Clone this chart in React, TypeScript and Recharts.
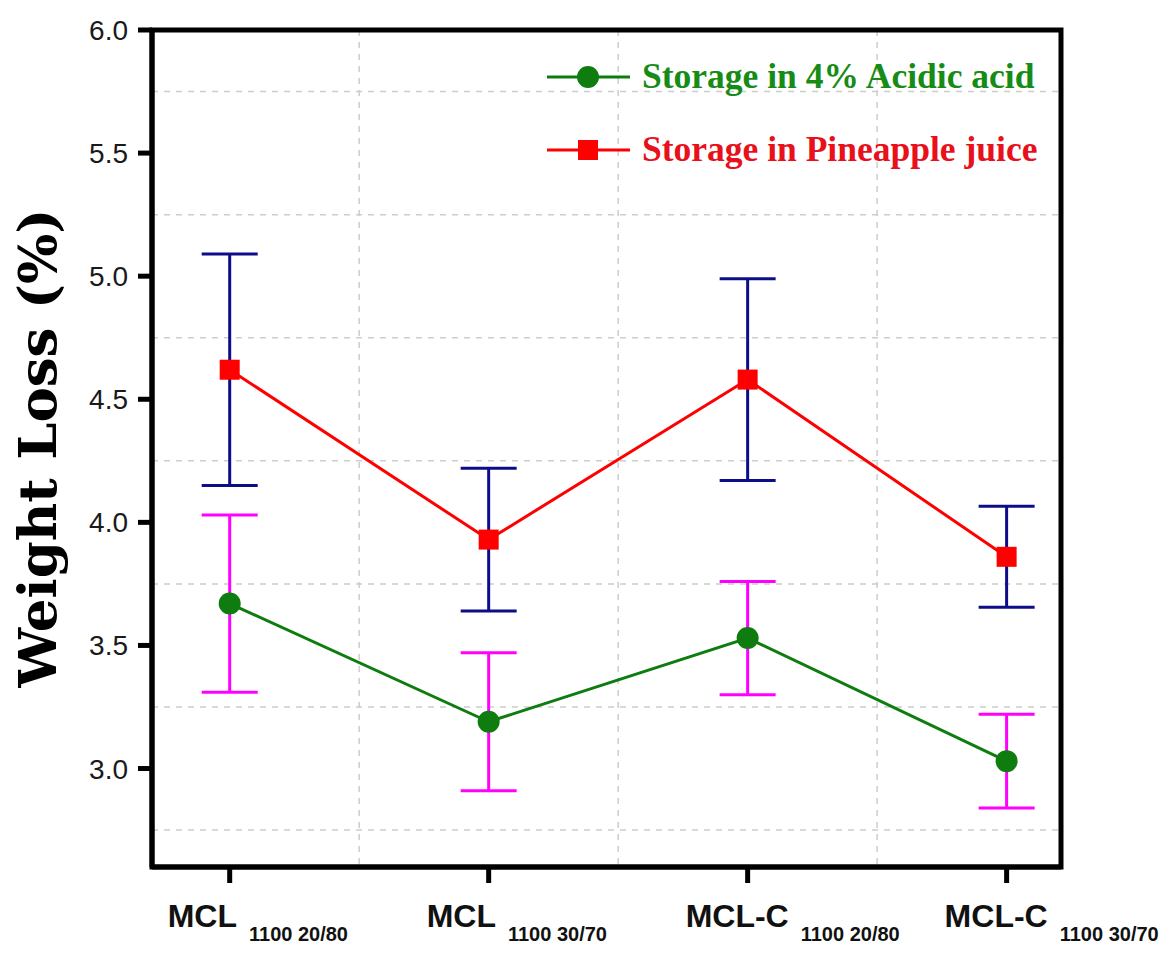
import React from "react";
import {
  LineChart,
  Line,
  XAxis,
  YAxis,
  ErrorBar,
  CartesianGrid,
  Legend,
  Label,
  ReferenceArea,
} from "recharts";

const categories = ["MCL", "MCL", "MCL-C", "MCL-C"];
const subscripts = ["1100 20/80", "1100 30/70", "1100 20/80", "1100 30/70"];
const positions = [1, 2, 3, 4];

const acidic = [3.67, 3.19, 3.53, 3.03];
const acidicErr = [0.36, 0.28, 0.23, 0.19];
const pineapple = [4.62, 3.93, 4.58, 3.86];
const pineappleErr = [0.47, 0.29, 0.41, 0.205];

const yTicks = [3.0, 3.5, 4.0, 4.5, 5.0, 5.5, 6.0];
const yGridValues = [2.75, 3.25, 3.75, 4.25, 4.75, 5.25, 5.75];
const xGridValues = [1.5, 2.5, 3.5];
const yDomain = [2.6, 6.0];
const xDomain = [0.7, 4.21];

const GREEN = "#0e7c0e";
const GREEN_TEXT = "#168c16";
const RED = "#ff0000";
const RED_TEXT = "#e8101a";
const NAVY = "#0d0d88";
const MAGENTA = "#ff00ff";

const SANS = "'Liberation Sans', Arial, sans-serif";
const SERIF = "'Liberation Serif', 'Times New Roman', serif";

const data = positions.map((pos, i) => ({
  pos,
  acidic: acidic[i],
  acidicErr: acidicErr[i],
  pineapple: pineapple[i],
  pineappleErr: pineappleErr[i],
}));

function SquareDot(props: any) {
  const { cx, cy } = props;
  if (cx == null || cy == null) return null;
  return <rect x={cx - 10} y={cy - 10} width={20} height={20} fill={RED} />;
}

function CategoryTick(props: any) {
  const { x, y, payload } = props;
  const i = positions.indexOf(payload.value);
  if (i < 0) return null;
  return (
    <text x={x - 62} y={y + 44} fontFamily={SANS} fontWeight="bold" fill="#111">
      <tspan fontSize={32}>{categories[i]}</tspan>
      <tspan fontSize={20} dx={12} dy={14}>
        {subscripts[i]}
      </tspan>
    </text>
  );
}

function ValueTick(props: any) {
  const { x, y, payload } = props;
  return (
    <text
      x={x}
      y={y}
      dy={10}
      textAnchor="end"
      fontFamily={SANS}
      fontSize={28}
      fill="#1a1a1a"
    >
      {Number(payload.value).toFixed(1)}
    </text>
  );
}

function LegendBox(props: any) {
  const payload = props.payload || [];
  return (
    <svg width={520} height={130}>
      {payload.map((p: any, i: number) => {
        const cy = 27 + i * 73;
        const isSquare = p.dataKey === "pineapple";
        const color = isSquare ? RED : GREEN;
        return (
          <g key={p.value}>
            <line x1={7} x2={90} y1={cy} y2={cy} stroke={color} strokeWidth={3} />
            {isSquare ? (
              <rect x={38} y={cy - 10} width={20} height={20} fill={RED} />
            ) : (
              <circle cx={48} cy={cy} r={11} fill={GREEN} />
            )}
            <text
              x={102}
              y={cy + 11}
              fontFamily={SERIF}
              fontWeight="bold"
              fontSize={35.5}
              fill={isSquare ? RED_TEXT : GREEN_TEXT}
            >
              {p.value}
            </text>
          </g>
        );
      })}
    </svg>
  );
}

export default function App() {
  return (
    <div style={{ width: 1163, height: 956, background: "#fff" }}>
      <style>{"body{margin:0}"}</style>
      <LineChart
        width={1163}
        height={956}
        data={data}
        margin={{ top: 30, right: 102, left: 52, bottom: 29 }}
      >
        <CartesianGrid
          horizontalValues={yGridValues}
          verticalValues={xGridValues}
          stroke="#cdcdcd"
          strokeDasharray="6 6"
          strokeWidth={1.5}
        />
        <XAxis
          dataKey="pos"
          type="number"
          domain={xDomain}
          ticks={positions}
          allowDataOverflow
          height={60}
          tickSize={16}
          tickMargin={0}
          tickLine={{ stroke: "#000", strokeWidth: 5 }}
          axisLine={{ stroke: "#000", strokeWidth: 5 }}
          tick={<CategoryTick />}
          interval={0}
        />
        <YAxis
          type="number"
          domain={yDomain}
          ticks={yTicks}
          allowDataOverflow
          width={100}
          tickSize={14}
          tickMargin={10}
          tick={<ValueTick />}
          tickLine={{ stroke: "#000", strokeWidth: 5 }}
          axisLine={{ stroke: "#000", strokeWidth: 5 }}
        >
          <Label
            content={() => (
              <text
                x={56}
                y={448}
                transform="rotate(-90 56 448)"
                textAnchor="middle"
                fontFamily="'DejaVu Serif', serif"
                fontWeight="bold"
                fontSize={53}
                fill="#000"
              >
                Weight Loss (%)
              </text>
            )}
          />
        </YAxis>
        <ReferenceArea
          x1={xDomain[0]}
          x2={xDomain[1]}
          y1={yDomain[0]}
          y2={yDomain[1]}
          fill="none"
          fillOpacity={0}
          stroke="#000"
          strokeWidth={5}
          ifOverflow="visible"
        />
        <Legend
          layout="vertical"
          align="center"
          verticalAlign="middle"
          wrapperStyle={{ position: "absolute", left: 540, top: 50, width: 520 }}
          content={<LegendBox />}
        />
        <Line
          dataKey="acidic"
          name="Storage in 4% Acidic acid"
          stroke={GREEN}
          strokeWidth={3}
          dot={{ r: 11, fill: GREEN, stroke: GREEN, strokeWidth: 0 }}
          activeDot={false}
          isAnimationActive={false}
        >
          <ErrorBar
            dataKey="acidicErr"
            direction="y"
            width={28}
            stroke={MAGENTA}
            strokeWidth={3}
            isAnimationActive={false}
          />
        </Line>
        <Line
          dataKey="pineapple"
          name="Storage in Pineapple juice"
          stroke={RED}
          strokeWidth={3}
          dot={<SquareDot />}
          activeDot={false}
          isAnimationActive={false}
        >
          <ErrorBar
            dataKey="pineappleErr"
            direction="y"
            width={28}
            stroke={NAVY}
            strokeWidth={3}
            isAnimationActive={false}
          />
        </Line>
      </LineChart>
    </div>
  );
}
